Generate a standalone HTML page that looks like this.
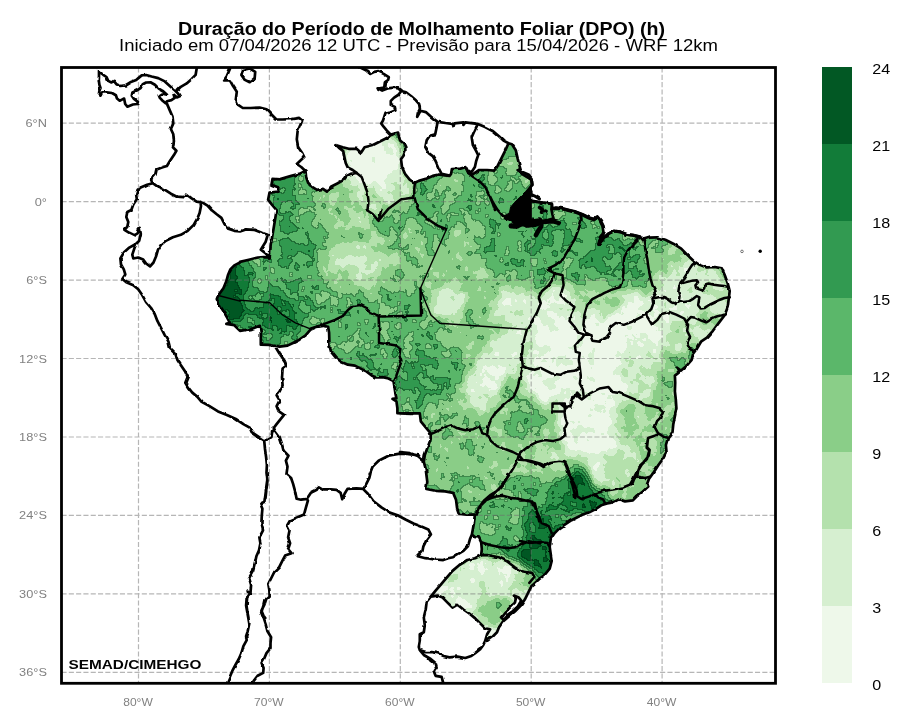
<!DOCTYPE html>
<html lang="pt"><head><meta charset="utf-8"><title>DPO</title>
<style>html,body{margin:0;padding:0;background:#fff}body{width:909px;height:727px;overflow:hidden;font-family:"Liberation Sans",sans-serif}svg{display:block}text{font-family:"Liberation Sans",sans-serif}</style></head><body>
<svg width="909" height="727" viewBox="0 0 909 727">
<rect width="909" height="727" fill="#fff"/>
<defs><clipPath id="fr"><rect x="61.5" y="67.5" width="714.0" height="615.8"/></clipPath>
<clipPath id="brc"><path d="M305.5,171L306.1,176.9 308.1,182.8 312.1,186.8 317,189.8 323,188.8 326.9,191.7 330.9,186.8 336.8,183.8 343.8,179.9 346.7,175.9 350.7,173.9 356.6,172.9 352.7,170 347.7,167.4 345.7,163 344.4,157.1 343.2,151.1 338.8,147.6 336.4,145.2 342.8,147.2 348.7,148.8 356.6,148.8 361,152.7 364.6,147.2 372.5,145.2 380.4,141.2 386.3,138.3 390.8,135.2 395.4,133.3 398.1,132.6 398.7,135.9 400.1,140.5 403.4,143.2 405.3,147.1 405.3,151.1 403.4,156 401,159.1 402,167 405,173.9 409.9,179.9 414.9,182.8 418.8,180.9 425.7,178.9 432.7,175.9 438.6,174.5 444.6,175.3 449.5,175.9 451.1,173.9 451.9,169 459.4,168.6 465.3,167 468.3,172.9 473.3,173.9 479.2,170 487.1,170 494.1,170.6 497,167 501,159.1 505,151.1 508.5,143.2 511.9,144.2 515.8,150.2 517.8,159.1 519.8,167 521.8,173.9 526.7,176.9 531.7,179.9 532.3,184.8 528.7,189.8 531.3,191.5 530.9,200.5 542.8,202.7 551.9,203.8 552.4,208.8 556,208 562.6,208.8 569.2,210.4 575.8,212.1 582.4,214.6 589,217.9 594,219.5 597.3,217 600.6,221.2 603,226.1 603.9,231.9 602.2,236 599.7,241 598.9,244.3 603.9,237.7 608.8,233.5 613.8,231.1 620.4,231.9 627,234.4 633.6,235.2 640,236.8 642.6,239.7 649.5,237.7 657.4,237.3 665.3,239.7 673.3,243.7 681.2,248.6 687.1,254.6 693.1,260.5 699,264.5 706.9,267.4 714.9,267 721.8,268.4 724.8,275.3 727.7,283.3 729.7,291.2 728.7,299.1 727.7,307 724.8,315 718.8,322.9 712.9,330.8 706.9,337.7 701,341.7 697,348.6 693.1,354 691.7,359.8 686.7,365.7 680.8,370.7 676.8,367.7 678.8,372.7 674.9,375.6 675.2,382.6 674.9,391.5 675.8,399.4 676.4,408.3 674.9,416.2 673.3,424.2 672.5,432.1 667.9,438 665.9,445 666.5,451.9 663,458.8 658.6,464.8 654.1,471.7 649.1,478.6 647.1,484 648.3,486.5 642.8,491.5 636.8,496.4 632.9,500.4 625,501.4 619,499.4 613.1,502.4 607.1,503.4 601.2,505.3 595.2,509.3 589.3,512.3 583.4,514.3 577.4,517.2 571.5,520.2 565.5,524.2 559.6,528.1 554.7,533.1 550.7,539 549.7,546.9 550.7,553.9 551.7,560.8 549.7,568.7 544.8,574.7 539.8,578.6 533.9,584 531.7,585.7 528.7,591.7 524.8,599.6 520.8,605.5 514.9,611.5 508.9,616.4 503,621.4 499,627.3 497,632.3 492.1,637.2 487.1,640.8 485.1,641.2 487.1,634.3 490.1,629.3 485.1,628.3 480.2,623.4 475.2,618.4 469.3,613.5 463.4,609.5 457.4,604.6 452.5,607.5 447.5,602.6 442.6,597.6 437.6,595.6 430.7,596.6 435.6,590.7 440.6,584.8 446.5,577.8 452.5,570.9 459.4,565 467.3,560 474.9,558.2 481.2,555.2 481.8,549.2 481.2,542.3 478.8,537.4 474.9,537 471.9,534.4 473.9,523.5 474.9,514.6 466.9,514.6 459,513.6 457,507.7 456,499.7 453.1,492.8 445.1,491.4 435.2,490.8 426.3,488.9 427.3,481.9 426.3,474 425.7,468.9 423.8,461.9 424.8,455 427.7,447.1 430.7,439.1 430.7,434.2 429.7,432.2 425.7,427.3 420.8,421.3 419.8,413.4 400,413.4 412.3,414 404.4,413.6 397.4,413.2 397.4,408.2 396.4,401.3 392.5,398.9 396.4,398.3 395.4,393.4 394.5,387.4 393.5,381.1 388.5,378.5 382.6,377.1 375.6,377.5 371.7,375.5 366.7,371.6 360.8,368.6 354.9,365.6 347.9,364.7 341,361.7 335,356.7 331.1,351.8 329.5,345.8 329.1,332.8 328.1,326.8 323.2,325.8 317.2,326.8 310.3,329.8 305.3,335.7 299.4,339.7 293.5,342.7 287.5,345.6 279.6,346.6 269.7,345 260.8,344.7 260.8,332.8 259.8,325.8 251.9,328.8 240,330.8 234.3,325.2 226.3,323.9 229.9,322.9 227.3,317.9 223.4,311 219.4,305 216.8,299.1 218.4,295.1 223.4,288.2 226.3,281.3 227.9,275.3 230.3,269.4 234.3,265.4 240,262.5 240,261.9 249.9,259.5 257.8,257.5 263.8,257.1 269.7,257.5 270.7,245.6 272.7,233.8 274.7,221.9 276.6,210 276.4,210 271.9,204.6 268.1,199.7 269.5,192.7 278.4,191.7 279.4,187.8 271.5,184.8 272.5,178.9 279.4,179.3 291.3,175.9 299.2,173.9Z"/></clipPath><filter id="dpo" x="195" y="120" width="580" height="540" filterUnits="userSpaceOnUse" color-interpolation-filters="sRGB"><feGaussianBlur in="SourceGraphic" stdDeviation="5" result="b"/><feTurbulence type="fractalNoise" baseFrequency="0.082" numOctaves="3" seed="3" result="t"/><feColorMatrix in="t" type="matrix" values="1 0 0 0 0 1 0 0 0 0 1 0 0 0 0 0 0 0 0 1" result="tg"/><feComposite in="b" in2="tg" operator="arithmetic" k1="0" k2="1" k3="0.4" k4="-0.2" result="v"/><feComponentTransfer in="v" result="q"><feFuncR type="discrete" tableValues="0 .125 .25 .375 .5 .625 .75 .875"/><feFuncG type="discrete" tableValues="0 .125 .25 .375 .5 .625 .75 .875"/><feFuncB type="discrete" tableValues="0 .125 .25 .375 .5 .625 .75 .875"/></feComponentTransfer><feColorMatrix in="q" type="matrix" values="0 0 0 0 0 0 0 0 0 0 0 0 0 0 0 1 0 0 0 0" result="qa"/><feMorphology in="qa" operator="erode" radius="1" result="era"/><feComposite in="qa" in2="era" operator="arithmetic" k1="0" k2="1" k3="-1" k4="0" result="eda"/><feComponentTransfer in="qa" result="ma"><feFuncA type="discrete" tableValues="0 0 0 0.8 1 1 1 1"/></feComponentTransfer><feComposite in="eda" in2="ma" operator="in" result="edm"/><feColorMatrix in="edm" type="matrix" values="0 0 0 0 0  0 0 0 0 0.14  0 0 0 0 0.04  0 0 0 3.0 0" result="edge"/><feComponentTransfer in="v" result="col"><feFuncR type="discrete" tableValues="0.9333 0.8392 0.7059 0.5412 0.3529 0.1922 0.0667 0.0000"/><feFuncG type="discrete" tableValues="0.9725 0.9373 0.8824 0.8078 0.7176 0.6039 0.4824 0.3412"/><feFuncB type="discrete" tableValues="0.9176 0.8157 0.6784 0.5333 0.4118 0.3137 0.2196 0.1373"/></feComponentTransfer><feMerge><feMergeNode in="col"/><feMergeNode in="edge"/></feMerge></filter><filter id="wig" x="55" y="60" width="730" height="630" filterUnits="userSpaceOnUse"><feTurbulence type="fractalNoise" baseFrequency="0.12" numOctaves="2" seed="11" result="n"/><feDisplacementMap in="SourceGraphic" in2="n" scale="2.6" xChannelSelector="R" yChannelSelector="G"/></filter>
</defs>
<g clip-path="url(#fr)">
<g clip-path="url(#brc)"><g filter="url(#dpo)"><rect x="190" y="115" width="590" height="550" fill="#8c8c8c"/><ellipse cx="283" cy="191.5" rx="17" ry="23.5" fill="#acacac"/><ellipse cx="292" cy="256" rx="30" ry="44" fill="#999999"/><ellipse cx="322.5" cy="194" rx="22.5" ry="24" fill="#808080"/><ellipse cx="327" cy="197" rx="13" ry="9" fill="#606060"/><ellipse cx="374" cy="172.5" rx="34" ry="42.5" fill="#4c4c4c"/><ellipse cx="373" cy="162" rx="29" ry="26" fill="#131313"/><ellipse cx="375" cy="160" rx="23" ry="18" fill="#0a0a0a"/><ellipse cx="395" cy="187.5" rx="15" ry="17.5" fill="#333333"/><ellipse cx="360" cy="261" rx="42" ry="35" fill="#6c6c6c"/><ellipse cx="357" cy="261" rx="31" ry="21" fill="#4c4c4c"/><ellipse cx="368" cy="263" rx="16" ry="15" fill="#3d3d3d"/><ellipse cx="332.5" cy="219" rx="17.5" ry="13" fill="#6c6c6c"/><ellipse cx="360" cy="216.5" rx="15" ry="11.5" fill="#565656"/><ellipse cx="289" cy="243" rx="11" ry="19" fill="#a9a9a9"/><ellipse cx="270.5" cy="315" rx="34.5" ry="30" fill="#afafaf"/><ellipse cx="278.5" cy="316" rx="23.5" ry="16" fill="#cccccc"/><ellipse cx="228" cy="294" rx="18" ry="36" fill="#efefef"/><ellipse cx="243" cy="279" rx="7" ry="17" fill="#d2d2d2"/><ellipse cx="317.5" cy="301" rx="17.5" ry="21" fill="#8f8f8f"/><ellipse cx="357.5" cy="345" rx="27.5" ry="40" fill="#8c8c8c"/><ellipse cx="358.5" cy="343.5" rx="13.5" ry="8.5" fill="#808080"/><ellipse cx="367.5" cy="358.5" rx="17.5" ry="13.5" fill="#9c9c9c"/><ellipse cx="412.5" cy="255" rx="12.5" ry="40" fill="#767676"/><ellipse cx="443" cy="199" rx="33" ry="27" fill="#8c8c8c"/><ellipse cx="448" cy="187" rx="12" ry="9" fill="#636363"/><ellipse cx="500" cy="177.5" rx="35" ry="37.5" fill="#8f8f8f"/><ellipse cx="521.5" cy="170" rx="13.5" ry="20" fill="#666666"/><ellipse cx="472.5" cy="275.5" rx="52.5" ry="49.5" fill="#707070"/><ellipse cx="469" cy="246" rx="17" ry="26" fill="#696969"/><ellipse cx="448" cy="302" rx="20" ry="18" fill="#404040"/><ellipse cx="448" cy="303" rx="12" ry="11" fill="#2d2d2d"/><ellipse cx="530" cy="247.5" rx="55" ry="32.5" fill="#939393"/><ellipse cx="549" cy="236" rx="29" ry="14" fill="#a9a9a9"/><ellipse cx="516" cy="307" rx="26" ry="21" fill="#404040"/><ellipse cx="515" cy="308" rx="15" ry="10" fill="#1d1d1d"/><ellipse cx="481.5" cy="341" rx="43.5" ry="15" fill="#737373"/><ellipse cx="580" cy="247.5" rx="25" ry="42.5" fill="#969696"/><ellipse cx="612.5" cy="262" rx="27.5" ry="30" fill="#a9a9a9"/><ellipse cx="580" cy="298.5" rx="20" ry="13.5" fill="#606060"/><ellipse cx="617.5" cy="303.5" rx="32.5" ry="18.5" fill="#565656"/><ellipse cx="556.5" cy="347" rx="28.5" ry="63" fill="#202020"/><ellipse cx="557.5" cy="365" rx="22.5" ry="35" fill="#0d0d0d"/><ellipse cx="620" cy="365" rx="45" ry="75" fill="#0d0d0d"/><ellipse cx="611" cy="299" rx="13" ry="15" fill="#666666"/><ellipse cx="653" cy="254" rx="15" ry="16" fill="#808080"/><ellipse cx="676" cy="260" rx="16" ry="18" fill="#606060"/><ellipse cx="675" cy="284" rx="25" ry="16" fill="#464646"/><ellipse cx="692.5" cy="306" rx="42.5" ry="44" fill="#292929"/><ellipse cx="711" cy="291.5" rx="11" ry="8.5" fill="#666666"/><ellipse cx="709" cy="319" rx="13" ry="11" fill="#666666"/><ellipse cx="680" cy="338" rx="16" ry="18" fill="#494949"/><ellipse cx="692" cy="350" rx="8" ry="10" fill="#797979"/><ellipse cx="668" cy="396" rx="16" ry="36" fill="#767676"/><ellipse cx="640" cy="370" rx="20" ry="30" fill="#3d3d3d"/><ellipse cx="660" cy="418" rx="20" ry="22" fill="#666666"/><ellipse cx="634" cy="420" rx="30" ry="22" fill="#666666"/><ellipse cx="592.5" cy="432.5" rx="32.5" ry="37.5" fill="#101010"/><ellipse cx="600" cy="460" rx="15" ry="22" fill="#101010"/><ellipse cx="638" cy="463" rx="32" ry="25" fill="#434343"/><ellipse cx="635" cy="481" rx="20" ry="11" fill="#606060"/><ellipse cx="620" cy="470" rx="20" ry="12" fill="#4c4c4c"/><ellipse cx="654" cy="457.5" rx="14" ry="17.5" fill="#606060"/><ellipse cx="430" cy="376" rx="50" ry="36" fill="#8f8f8f"/><ellipse cx="424" cy="380" rx="28" ry="28" fill="#a3a3a3"/><ellipse cx="481" cy="338" rx="43" ry="18" fill="#707070"/><ellipse cx="492" cy="372" rx="20" ry="60" fill="#3d3d3d" transform="rotate(34 492 372)"/><ellipse cx="493" cy="372" rx="11" ry="40" fill="#1d1d1d" transform="rotate(34 493 372)"/><ellipse cx="445" cy="417" rx="35" ry="19" fill="#767676"/><ellipse cx="528" cy="424" rx="42" ry="32" fill="#606060"/><ellipse cx="524" cy="421" rx="21" ry="23" fill="#898989"/><ellipse cx="571.5" cy="422.5" rx="13.5" ry="27.5" fill="#1a1a1a"/><ellipse cx="552" cy="378" rx="32" ry="26" fill="#1a1a1a"/><ellipse cx="473" cy="465" rx="49" ry="35" fill="#6c6c6c"/><ellipse cx="470" cy="463" rx="18" ry="17" fill="#797979"/><ellipse cx="442" cy="459" rx="18" ry="11" fill="#6c6c6c"/><ellipse cx="454" cy="494" rx="30" ry="24" fill="#808080"/><ellipse cx="550.5" cy="467" rx="34.5" ry="15" fill="#535353"/><ellipse cx="536" cy="490" rx="36" ry="16" fill="#939393"/><ellipse cx="570" cy="500.5" rx="30" ry="14.5" fill="#acacac"/><ellipse cx="578" cy="484" rx="14" ry="18" fill="#d9d9d9"/><ellipse cx="592" cy="503" rx="20" ry="11" fill="#dfdfdf"/><ellipse cx="575" cy="463" rx="15" ry="7" fill="#707070"/><ellipse cx="509.5" cy="520" rx="35.5" ry="26" fill="#898989"/><ellipse cx="502" cy="523" rx="18" ry="11" fill="#868686"/><ellipse cx="542" cy="526.5" rx="24" ry="21.5" fill="#bfbfbf"/><ellipse cx="546" cy="533" rx="14" ry="13" fill="#dfdfdf"/><ellipse cx="504" cy="560" rx="26" ry="20" fill="#b2b2b2"/><ellipse cx="534" cy="563" rx="22" ry="21" fill="#e6e6e6"/><ellipse cx="485" cy="600.5" rx="60" ry="44.5" fill="#1d1d1d"/><ellipse cx="470" cy="585" rx="30" ry="15" fill="#333333"/><ellipse cx="495" cy="611" rx="19" ry="15" fill="#767676"/><ellipse cx="522.5" cy="587.5" rx="17.5" ry="12.5" fill="#464646"/><ellipse cx="534" cy="581" rx="14" ry="9" fill="#808080"/><ellipse cx="623" cy="490" rx="27" ry="12" fill="#606060"/><ellipse cx="658.5" cy="465" rx="13.5" ry="25" fill="#696969"/><ellipse cx="599" cy="297" rx="27" ry="19" fill="#606060"/><ellipse cx="665.5" cy="379" rx="10.5" ry="13" fill="#737373"/><ellipse cx="634" cy="422" rx="22" ry="24" fill="#606060"/><ellipse cx="565" cy="506" rx="17" ry="12" fill="#bcbcbc"/><ellipse cx="592" cy="503" rx="18" ry="9" fill="#dfdfdf"/></g></g>
<path d="M138.5,67.5V683.3M269.4,67.5V683.3M400.3,67.5V683.3M531.2,67.5V683.3M662.1,67.5V683.3M61.5,672.3H775.5M61.5,593.9H775.5M61.5,515.4H775.5M61.5,437H775.5M61.5,358.5H775.5M61.5,280.1H775.5M61.5,201.6H775.5M61.5,123.1H775.5" fill="none" stroke="#6e6e6e" stroke-opacity="0.5" stroke-width="1.2" stroke-dasharray="5.1 2.2"/>
<path d="M218.4,295.5L240,301.1M240,300.1L269.7,302.7 282.6,315 295.4,322.9 310.3,328.8M446.7,228.8L420,289.2 422,293.2 425.9,303.1 430.9,315 439.8,323.3 526.9,329.4" fill="none" stroke="#000" stroke-width="1.4" stroke-linejoin="round" stroke-linecap="round"/>
<g filter="url(#wig)">
<path d="M356.6,172.9L361.6,176.9 364.6,184.8 367.5,192.7 368.5,200.7 367.5,210M366.7,210L372.7,214 378.6,220.9 379.6,215.9 381.6,210M379.9,219L388.1,209.1 401.3,199.2 414.5,197.6 417.8,209.1 427.7,219 437.6,225.6 445.9,228.9M379.9,316.4L421.1,315.4 420.5,288.3M414.9,182.8L414.3,188.8 414.3,194.7 414.5,197.7M468.3,172.9L473.3,176.9 479.2,180.9 485.1,186.8 489.1,194.7 493.1,204.6 495,210M490,196.4L493.3,203 497.4,209.6 502.4,215.4 505.7,217.9M526.9,329.4L530.9,322.9 536.8,313 540.8,303.1 538.8,297.1 541.8,291.2 548.7,285.2 552.7,279.3 554.7,273.4 546.7,269.4 554.7,265.4 562.6,259.5 568.5,249.6 574.5,239.7 578.4,229.8 581.4,219.9 580.4,214M526.9,329.4L525,336.7 523,344.7 522,354M554.7,273.4L562.6,275.3 563.6,285.2 560.6,295.1 566.5,301.1 574.5,307 570.5,315 569.5,320.9 574.5,326.8 578.4,332.8 584.4,334.8 590.3,334.8M600,295.1L592.3,299.1 587.3,305 584.4,315 583.4,324.9 586.3,332.8 590.3,334.8 592.3,340.7 600,341.7M584.4,334.8L580.8,339.7M310.3,328.8L319.2,325.8 327.1,322.9 335,319.9 343,315.9 347.9,310 352.9,306 360.8,305 366.7,308 370.7,312 376.6,315 378.6,315.9 379,328.8 379,343.1 390.5,344.5 397.4,345.8M396.4,345.4L400.4,348.8 399.4,355.7 401.4,361.7 398.4,369.6 396.4,375.5 393.5,381.1M638.6,238.7L632.7,244.7 627.7,250.6 624.2,257.5 623.4,265.4 623.4,273.4 622.2,281.3 619.8,287.2 611.9,289.6 604,293.2 600,295.5M645.9,314.6L648.5,318.9 651.9,324.5 657.4,319.9 661.4,314 669.3,312 676.2,314.6 684.2,318.5 688.1,324.9 687.1,330.8 690.1,336.7 687.1,343.1 689.1,348.6 694.1,351M643.3,239.2L644.6,245.8 645.9,252.4 647.3,259 648.2,265.6 649.2,272.2 650.6,278.8 652.5,285.4 655.2,290.1 655.8,293.4 653.9,296.7 652.5,298.6 653.2,303.9 651.2,309.2 647.9,312.5 645.9,314.5M645.9,314.6L639.6,317.9 631.7,321.9 623.8,324.9 615.8,322.9 610.9,326.8 609.9,332.8 605.9,337.7 600,340.7M652.5,298.6L658.5,297.3 663.8,297.1 668.4,299.3 672.3,302.3 675,303.3 678.3,301.3 678.9,300.6 679.6,296 678.3,292 678.9,288.1 680.3,282.8 683.6,278.8 686.9,273.6 689.5,268.9 692.1,265 694.8,262.7M680.9,283.5L686.2,282.1 691.5,280.8 696.8,280.2 698.1,282.1 695.4,285.4 696.1,288.1 699.4,289.4 703.4,290.7 705.3,288.1 706,284.1 708.6,283.5 713.9,284.8 719.2,285.4 724.5,286.1 727.4,286.8M678.9,300.6L683.6,301.9 688.8,301.3 693.5,298.6 696.8,296 699.4,297.3 698.7,301.3 698.1,305.2 700.7,308.5 704.7,307.9 708.6,305.2 713.9,302.6 719.2,300 724.5,298 729.8,297.3M686.2,322.4L688.2,319.8 690.8,317.1 695.4,317.8 700.7,320.4 706,322.4 708.6,321.1 711.9,318.4 716.6,316.5 721.8,315.1 725.8,314.5M430.7,434.2L437.6,431.2 445.5,427.3 451.5,425.3 457.4,428.3 465.3,430.2 473.3,429.2 479.2,426.3 481.2,430.2 482.2,433.2 487.1,435.2M487.1,435.2L488.1,427.3 491.1,419.3 495,413.4 501,407.5 507.9,401.5 513.9,396.6 516.8,389.6 518.8,381.7 520.8,373.8 522.8,365.9 521.8,358 521.2,354M487.1,435.2L491.1,441.1 497,446.1 505,449 512.9,452 518.8,455M518.8,455L522.8,451 528.7,446.1 536.6,442.1 544.6,440.1 552.5,441.1 560.4,439.1 565.3,435.2 564.4,429.2 567.3,423.3 565.3,417.4 564.4,411.4 566.3,406.5 570.3,407.5 571.3,399.5 575.2,396.6 577.2,392.6 580,395.6M552.5,403.5L564.8,403.5 564.8,411.4 552.5,411.4ZM522.8,365.9L526.7,367.9 534.7,369.8 540.6,367.9 546.5,370.8 552.5,373.8 560.4,374.8 566.3,371.8 574.3,370.8 578.2,368.9M518.8,455L516.8,461.9 512.9,468.9 507.9,476.8 503,484.7 497,490.6 492.1,495.6 490.1,498M518.8,455L522.8,459.9 530.7,461.9 538.6,463.9 543.6,466.9 550.5,462.9 558.4,461.9 564.4,461.9 567.3,468.9 569.3,476.8 572.3,484.7 574.3,492.6 575.2,498M581.8,399.4L589.7,393.5 599.6,388.5 608.5,387.1 612.5,391.9 619.4,393.1 625.3,395.4 632.3,398.4 639.2,401.4 645.1,405.3 653.1,406.3 660,408.3 663,411.3 660,418.2 657,421.2 654.7,427.1 658,433.1 664,437 667.9,438M657,435L648.1,438 647.1,446.9 649.1,450.9 647.1,458.8 641.6,464.8 638.2,470.7 637.2,476.6 645.1,478 650.1,476.6M637.2,476.6L634.3,478.6 632.3,484M579.8,340L574.9,345.9 575.8,351.9 579.8,352.9 578.8,359.8 579.8,367.7 580.8,375.6 579.8,383.6 582.8,389.5 583.8,397.4 581.8,399.4 576.8,395.4 571.9,397.4 570.9,405.3 565.9,408.3 560,403.4M507.5,474L504.6,481.9 498.6,489.8 490.7,494.8 483.8,500.7 478.8,507.7 476.8,514.6M477.8,512.6L480.8,505.7 486.7,499.7 494.7,496.8 502.6,495.8 510.5,497.8 518.4,498.8 526.3,500.7 532.3,501.7 535.2,507.7 537.2,513.6 539.2,521.5M481.2,542.3L490.7,545.3 500.6,547.3 508.5,548.3 514.5,547.3 520.4,544.3 528.3,541.3 540,543.3M481.2,555.2L488.7,555.2 498.6,557.2 506.5,561.1 514.5,567.1 520.4,571 526.3,572 532.3,573 534.3,577 529.3,582.9M520,459.8L529.9,460.8 539.8,463.4 544.8,465.7 551.7,462.8 559.6,461.8 565.5,462.8 568.5,469.7 570.5,477.6 573.5,482.6 576.4,489.5 577.4,496.4 581.4,499 589.3,496.4 595.2,493.5 603.2,491.1 613.1,489.5 623,487.5 629.9,484.6 633.9,477.6 636.8,471.7 638.8,466.7 643.8,461.8 648.7,455.8 649.7,449.9 646.7,446.9 647.7,440M595.2,493.5L598.2,497.4 603.2,499.4 605.1,503.4M520,500.4L527.9,500.4 534.9,503.4 536.8,511.3 539.8,518.2 541.8,523.2 548.7,526.1 551.7,533.1M520,541L529.9,543 539.8,542 547.7,543 549.7,545.9" fill="none" stroke="#000" stroke-width="2.5" stroke-linejoin="round" stroke-linecap="round"/>
<path d="M513.9,595.6L518.8,597.6 521.2,600.6 517.8,606.5 512.9,611.1 506.9,615.4 503,619.4 501,617.4 505,612.5 509.9,607.5 514.9,602.6 515.8,598.6Z" fill="#fff" stroke="none"/>
<path d="M505.7,217L511.5,218.7 517.2,217 523,219.5 528.8,219.5" fill="none" stroke="#000" stroke-width="5" stroke-linejoin="round" stroke-linecap="round"/>
<path d="M511.1,225.8L516.4,226.1 522.2,223.6 528,225.3 533.7,224.5 539.5,222.5 546.1,221.5 552.7,220.8 558.5,222.5" fill="none" stroke="#000" stroke-width="5.2" stroke-linejoin="round" stroke-linecap="round"/>
<path d="M514.8,221.2L523,222.5 531.3,221.5 539.5,220.3" fill="none" stroke="#000" stroke-width="6" stroke-linejoin="round" stroke-linecap="round"/>
<path d="M535.9,235.2L538.7,230.2 542,225.3" fill="none" stroke="#000" stroke-width="4.6" stroke-linejoin="round" stroke-linecap="round"/>
<path d="M531.3,201.4L542.8,202.7 551.9,203.8 551.4,209.6 552.4,214.6 553.5,218.2 547.8,220.3 541.2,221.5" fill="none" stroke="#000" stroke-width="2.6" stroke-linejoin="round" stroke-linecap="round"/>
<path d="M539.5,207.6L542.5,209.6 541.5,212.2 545.8,211.3" fill="none" stroke="#000" stroke-width="3.6" stroke-linejoin="round" stroke-linecap="round"/>
<path d="M532.1,194.8L535.4,196.4 539.5,198.9" fill="none" stroke="#000" stroke-width="3" stroke-linejoin="round" stroke-linecap="round"/>
<path d="M552.4,208.8L556,208 562.6,208.8 569.2,210.4 575.8,212.1 582.4,214.6 589,217.9 594,219.5 597.3,217 600.6,221.2 603,226.1 603.9,231.9 602.2,236 599.7,241 598.9,244.3" fill="none" stroke="#000" stroke-width="3.6" stroke-linejoin="round" stroke-linecap="round"/>
<path d="M598.9,244.3L603.9,237.7 608.8,233.5 613.8,231.1 620.4,231.9 627,234.4 633.6,235.2 640,236.8" fill="none" stroke="#000" stroke-width="3" stroke-linejoin="round" stroke-linecap="round"/>
<path d="M518.9,170L523,172.5 528.8,175 531.3,178.3 532.1,184.9" fill="none" stroke="#000" stroke-width="3.2" stroke-linejoin="round" stroke-linecap="round"/>
<path d="M531.3,184.9L525.5,191.5 519.7,197.2 514.8,202.2 510.6,207.1 509.5,212.6 505.7,215.4 505.2,219.5 511.5,220.2 517.2,218.2 523,220.5 531.3,219.5 531.3,200.5 531.6,191.5Z" fill="#000" stroke="#000" stroke-width="1"/>
<circle cx="760.2" cy="251.2" r="1.7" fill="#000"/><circle cx="742" cy="251.4" r="1.3" fill="#fff" stroke="#555" stroke-width="0.8"/>
<path d="M305.5,171L306.1,176.9 308.1,182.8 312.1,186.8 317,189.8 323,188.8 326.9,191.7 330.9,186.8 336.8,183.8 343.8,179.9 346.7,175.9 350.7,173.9 356.6,172.9 352.7,170 347.7,167.4 345.7,163 344.4,157.1 343.2,151.1 338.8,147.6 336.4,145.2 342.8,147.2 348.7,148.8 356.6,148.8 361,152.7 364.6,147.2 372.5,145.2 380.4,141.2 386.3,138.3 390.8,135.2 395.4,133.3 398.1,132.6 398.7,135.9 400.1,140.5 403.4,143.2 405.3,147.1 405.3,151.1 403.4,156 401,159.1 402,167 405,173.9 409.9,179.9 414.9,182.8 418.8,180.9 425.7,178.9 432.7,175.9 438.6,174.5 444.6,175.3 449.5,175.9 451.1,173.9 451.9,169 459.4,168.6 465.3,167 468.3,172.9 473.3,173.9 479.2,170 487.1,170 494.1,170.6 497,167 501,159.1 505,151.1 508.5,143.2 511.9,144.2 515.8,150.2 517.8,159.1 519.8,167 521.8,173.9 526.7,176.9 531.7,179.9 532.3,184.8 528.7,189.8 531.3,191.5 530.9,200.5 542.8,202.7 551.9,203.8 552.4,208.8 556,208 562.6,208.8 569.2,210.4 575.8,212.1 582.4,214.6 589,217.9 594,219.5 597.3,217 600.6,221.2 603,226.1 603.9,231.9 602.2,236 599.7,241 598.9,244.3 603.9,237.7 608.8,233.5 613.8,231.1 620.4,231.9 627,234.4 633.6,235.2 640,236.8 642.6,239.7 649.5,237.7 657.4,237.3 665.3,239.7 673.3,243.7 681.2,248.6 687.1,254.6 693.1,260.5 699,264.5 706.9,267.4 714.9,267 721.8,268.4 724.8,275.3 727.7,283.3 729.7,291.2 728.7,299.1 727.7,307 724.8,315 718.8,322.9 712.9,330.8 706.9,337.7 701,341.7 697,348.6 693.1,354 691.7,359.8 686.7,365.7 680.8,370.7 676.8,367.7 678.8,372.7 674.9,375.6 675.2,382.6 674.9,391.5 675.8,399.4 676.4,408.3 674.9,416.2 673.3,424.2 672.5,432.1 667.9,438 665.9,445 666.5,451.9 663,458.8 658.6,464.8 654.1,471.7 649.1,478.6 647.1,484 648.3,486.5 642.8,491.5 636.8,496.4 632.9,500.4 625,501.4 619,499.4 613.1,502.4 607.1,503.4 601.2,505.3 595.2,509.3 589.3,512.3 583.4,514.3 577.4,517.2 571.5,520.2 565.5,524.2 559.6,528.1 554.7,533.1 550.7,539 549.7,546.9 550.7,553.9 551.7,560.8 549.7,568.7 544.8,574.7 539.8,578.6 533.9,584 531.7,585.7 528.7,591.7 524.8,599.6 520.8,605.5 514.9,611.5 508.9,616.4 503,621.4 499,627.3 497,632.3 492.1,637.2 487.1,640.8 485.1,641.2 487.1,634.3 490.1,629.3 485.1,628.3 480.2,623.4 475.2,618.4 469.3,613.5 463.4,609.5 457.4,604.6 452.5,607.5 447.5,602.6 442.6,597.6 437.6,595.6 430.7,596.6 435.6,590.7 440.6,584.8 446.5,577.8 452.5,570.9 459.4,565 467.3,560 474.9,558.2 481.2,555.2 481.8,549.2 481.2,542.3 478.8,537.4 474.9,537 471.9,534.4 473.9,523.5 474.9,514.6 466.9,514.6 459,513.6 457,507.7 456,499.7 453.1,492.8 445.1,491.4 435.2,490.8 426.3,488.9 427.3,481.9 426.3,474 425.7,468.9 423.8,461.9 424.8,455 427.7,447.1 430.7,439.1 430.7,434.2 429.7,432.2 425.7,427.3 420.8,421.3 419.8,413.4 400,413.4 412.3,414 404.4,413.6 397.4,413.2 397.4,408.2 396.4,401.3 392.5,398.9 396.4,398.3 395.4,393.4 394.5,387.4 393.5,381.1 388.5,378.5 382.6,377.1 375.6,377.5 371.7,375.5 366.7,371.6 360.8,368.6 354.9,365.6 347.9,364.7 341,361.7 335,356.7 331.1,351.8 329.5,345.8 329.1,332.8 328.1,326.8 323.2,325.8 317.2,326.8 310.3,329.8 305.3,335.7 299.4,339.7 293.5,342.7 287.5,345.6 279.6,346.6 269.7,345 260.8,344.7 260.8,332.8 259.8,325.8 251.9,328.8 240,330.8 234.3,325.2 226.3,323.9 229.9,322.9 227.3,317.9 223.4,311 219.4,305 216.8,299.1 218.4,295.1 223.4,288.2 226.3,281.3 227.9,275.3 230.3,269.4 234.3,265.4 240,262.5 240,261.9 249.9,259.5 257.8,257.5 263.8,257.1 269.7,257.5 270.7,245.6 272.7,233.8 274.7,221.9 276.6,210 276.4,210 271.9,204.6 268.1,199.7 269.5,192.7 278.4,191.7 279.4,187.8 271.5,184.8 272.5,178.9 279.4,179.3 291.3,175.9 299.2,173.9ZM99,71.5L103.2,74.8 106.5,77 108.2,80.9 111.5,82.5 113.7,80.9 116.4,84.2 120.3,86 125.2,85.3 130.2,82.3 136.2,80.1 138.4,78.1 141.7,75.4 146.1,75 151.6,76.5 158.2,78.1 164.8,81.4 170.3,86.4 175.3,90.8 178,93.5 179.7,96.3 176.9,97.4 173.6,94.6 174.7,97.9 171.4,100.1 167,101.2 165.9,103.4 162.6,100.7 159.9,97.9 158.8,95.2 161.5,93.5 167,94.8 162.6,90.8 158.8,88.6 154.9,84.7 150.5,82.3 146.1,82.5 142.8,84.2 140.6,88 136.2,90.8 132.4,92.4 131.8,95.7 134,99 137.9,101.8 137.3,104 132.9,104.5 127.4,106.7 125.2,104 124.1,98.5 121.9,99.6 119.7,100.7 117,98.5 115.9,95.2 112,93 106.5,92.4 102.1,92.4 100.5,95.7 98.8,94.6 99.4,90.8 100.5,88 99.4,84.7 98.8,80.3 99,75.9ZM177.8,89.8L180.8,86.8 186.7,83.4 191.7,78.9 195.6,74.9 196.6,69 197,66M166.9,103.6L169.9,110.6 172.5,116.5 173.3,123.4 170.9,129 173.3,134.3 173.9,141.2 172.9,147.2 176.4,150.8 173.9,155.1 169.9,161 166.9,166 162,167.4 156.6,169.4 155.4,174.9 151.1,179.9 152.7,183.2M152.7,183.2L158,186.8 165,189.8 170.9,193.7 176.8,196.7 183.8,197.1 186.7,194.7 191.7,198.3 196.6,201.6 202.6,202.6 207.5,205.6 211.5,210M152.7,183.2L147.1,184.8 141.2,187.2 137.6,189.8 136.2,194.7 136.8,199.1 133.3,204.6 131.3,210M230.3,66L229.9,69 226.9,75.9 224,80.3 229.9,80.3 232.9,85.8 236.8,91.7 235.8,99.7 237.8,104.6 242.8,108 250.7,108 259.6,107.6 266.5,109.2 271.5,114.5 276.4,119.5 282.4,119.5 291.3,119.1 299.2,117.9 302.2,120.5 300.2,125.4 297.6,131.3 296.8,139.3 298.2,147.2 302.2,153.1 304.2,157.1 300.2,160.7 296.8,164 301.2,167 305.5,171M242.8,70L249.7,68.4 255.2,71.9 254.7,77.9 249.7,82.2 244.8,79.9 241.4,74.9ZM359.8,67.3L366.4,70.6 370.4,73.9 374.3,71.9 378.3,71.2 383.6,73.9 388.8,77.2 388.2,79.8 384.9,82.4 384.2,87.7 379.6,88.4 377.6,88.4 382.2,90.6 387.5,88.4 394.1,87.7 398.1,88.4 401.4,91M401.4,91L398.1,95 394.1,97.6 390.8,100.9 390.8,104.9 394.8,106.9 395.4,109.5 390.2,111.5 385.5,112.8 384.2,116.8 382.9,120.7 381.2,123.4 383.6,126.7 386.9,130.6 390.8,134.6 395.4,133.3 398.1,132.6M401.4,91L406,92.3 411.3,96.3 415.9,100.3 419.2,104.2 419.9,108.8 417.9,112.8 417.2,116.8 420.5,110.8 425.8,112.1 431.1,116.8 437,121.4M437.6,121.8L445.5,123 452.5,123.8 453.5,126.4 454.5,123.4 463.4,122.4 463.4,125 465.3,122.4 477.2,123.8 485.1,127 493.1,131.3 499,136.3 504,140.9 508.5,143.2M437.6,121.8L436.6,127.4 435.2,134.3 429.7,135.7 426.7,140.3 425.3,147.2 428.7,153.1 432.7,156.1 435.6,161 438.6,168 441.6,173.9 448.5,175.3M477.6,124.4L474.3,131.3 471.7,137.3 472.9,145.2 476.2,151.1 478.2,155.1 476.2,161 474.9,167 472.3,171 468.9,172.5M131.3,210L127.3,212 126.3,216.9 128.3,221.9 127.3,226.8 124.4,229.8 129.3,232.8 134.3,235.3 137.6,233.4 139.6,227.8 140.8,233.8 139.2,240.7 136.2,243.7M136.2,243.7L134.3,248.6 132.3,254.6 133.3,258.5 138.2,257.5 143.2,259.5 146.1,263.5 150.1,266.4 153.5,262.5 156,256.5 158,249.6 161,244.7 165.9,240.7 172.9,237.3 180.8,234.8 187.7,230.8 193.7,224.9 197.6,217.9 199.6,213 201,206 200.4,201.9M136.2,243.7L129.3,247.6 123.8,252.6 120.4,258.5 121,264.5 123.8,269.4 125.3,274.4 122.4,278.9 126.3,282.3 133.3,285.2 138.2,289.2 142.2,295.1 146.1,302.1 151.1,308 154.7,314 157.4,320.9 161,327.8 164.6,334.8 168.5,341.7 169.9,347.6 174.9,352.6 175.8,354M211.5,210L216.4,214 221.4,217.9 224.4,223.9 228.3,228.8 234.3,230.8 240,231.4M240,231.4L245.9,229.4 253.9,229.8 261.8,232.8 267.7,234.8 265.7,241.7 260.8,249.6 264.8,252.6 269.7,257.5M175.4,354L177.4,359.9 181.4,365.9 185.3,371.8 187.7,376.8 185.3,382.7 188.3,387.7 192.3,392.6 197.2,396.6 201.2,401.5 209.1,405.9 218,411.4 226.9,415 235.8,419 243.8,424.3 249.7,427.7 251.7,432.2 257.6,436.2 263.6,440.1 267.5,439.5 271.5,437.2 272.1,432.2 274.5,429.2M264.2,440.7L265,449 266.1,457 266.9,464.9 266.5,472.8 267.5,480.7 266.5,488.7 265.5,498M274.7,345.8L279.6,353.8 284.6,360.7 286.5,365.6 282.6,368.6 282,377.5 282.6,385.4 279.6,391.4 276.6,395.3 279.6,400.3 276.6,406.2 278.6,411.2 284,414.8 280.6,419.1 276.6,424.1 273.7,428 275.2,431M275.2,431L279.6,436.9 281.6,442.9 283.6,450.8 288.5,455.7 285.9,460.7 287.5,466.6 286.5,474M286.5,474L291.1,478 293.1,483.9 295,490.8 296.6,498.8 301,499.7 306.9,498.8M266.7,474L267.3,479.9 266.3,486.9 265.3,494.8 264.4,501.7 260.4,503.7 262.4,508.7 261.8,515.6 261.4,523.5 263,530.4 259.4,537.4 260.4,543.3 259,550.2 256.4,556.2 255,563.1 253.1,571 249.1,578 251.1,584.9 250.5,592.8 247.1,597.8 246.5,605.7 247.5,612.6 248.5,618M247.7,591.7L250.7,593.7 246.7,597.6 246.1,605.5 247.7,614.5 249.3,623.4 247.7,631.3 246.1,636.2 246.7,640.2 243.4,646.1 241.4,653.1 238.8,659 235.4,665 232.3,670.9 229.9,676.8 227.5,682.4M306.9,498.8L307.9,500.7 305.9,507.7 304,514.6 297,517.6 290.1,520.5 287.1,525.5 289.5,530.4 288.1,537.4 290.1,543.3 288.1,549.2 291.5,553.2 285.1,555.6 282.2,561.1 279.2,567.1 274.3,572 271.3,578 268.3,583.9 269.3,589.8 269.7,595.8 266.3,598.8 264.4,604.7 261.4,610.6 263.4,615.6 265.3,618M264.6,600.6L263.2,606.5 261.2,612.5 263.6,618.4 265.9,625.3 267.5,631.3 271.1,637.2 270.5,643.2 270.5,648.1 266.5,653.1 264,659 261.6,663 263.6,667.9 263.2,672.9 257.6,675.8 253.7,680.8 252.7,683.2M306.9,498.8L310.9,492.8 316.8,489.8 318.8,486.3 323.8,489.4 330.7,489.4 336.6,489.8 340.6,492.8 342.2,499.3 344.6,493.8 347.5,488.9 356.4,488.3 363.4,488.9M363.4,488.9L366.3,483.9 369.3,478 370.3,474M369.7,474L372.7,466.6 378.6,460.7 388.5,455.7 398.4,453.8 408.3,453.8 420,455.7M400,452L409.9,453 417.8,456 423.8,460.9M363,488.9L367.9,493.8 373.9,501.7 381.8,507.7 389.7,512.6 397.6,515.2 405.5,519.5 413.5,523.5 421.4,526.5 428.3,529.4 430.9,534.4 426.3,540.3 423.4,546.3 422.4,551.2 417.8,556.2 425.3,558.2 435.2,559.5 443.2,560.1 448.1,558.2 453.1,557.2 458,554.2 463,551.2 467.9,546.3 469.9,539.3 471.9,534.4M430.7,596.6L426.7,601.6 425.7,609.5 423.8,617.4 424.8,625.3 423.8,632.3 419.8,634.3 419.8,641.2 418.8,647.1 419.8,650.1 425.7,652.1 431.7,652.1 437.6,653.1 443.6,656 449.5,657.4 457.4,656.6 465.3,658 471.3,656 475.2,653.1 480.2,649.1 483.2,645.1 485.1,641.2M419.8,650.1L423.8,655 430.7,659 435.6,663 436.6,666.9 433.7,670.9 435.6,675.8 441.6,676.8 443.2,682.8M513.9,595.6L518.8,597.6 521.2,600.6 517.8,606.5 512.9,611.1 506.9,615.4 503,619.4 501,617.4 505,612.5 509.9,607.5 514.9,602.6 515.8,598.6Z" fill="none" stroke="#000" stroke-width="2.7" stroke-linejoin="round" stroke-linecap="round"/>
</g>
</g>
<rect x="61.5" y="67.5" width="714.0" height="615.8" fill="none" stroke="#000" stroke-width="2.8"/>
<g opacity="0.996">
<text x="178" y="35.3" font-size="17.6" font-weight="700" textLength="487" lengthAdjust="spacingAndGlyphs" fill="#000">Duração do Período de Molhamento Foliar (DPO) (h)</text>
<text x="119" y="50.6" font-size="17.2" textLength="599" lengthAdjust="spacingAndGlyphs" fill="#000">Iniciado em 07/04/2026 12 UTC - Previsão para 15/04/2026 - WRF 12km</text>
<text x="68.5" y="668.8" font-size="13.6" font-weight="700" textLength="133" lengthAdjust="spacingAndGlyphs" fill="#000">SEMAD/CIMEHGO</text>
<text transform="translate(46.9 676.3) scale(1.16 1)" font-size="11" text-anchor="end" fill="#808080">36°S</text>
<text transform="translate(46.9 597.9) scale(1.16 1)" font-size="11" text-anchor="end" fill="#808080">30°S</text>
<text transform="translate(46.9 519.4) scale(1.16 1)" font-size="11" text-anchor="end" fill="#808080">24°S</text>
<text transform="translate(46.9 441) scale(1.16 1)" font-size="11" text-anchor="end" fill="#808080">18°S</text>
<text transform="translate(46.9 362.5) scale(1.16 1)" font-size="11" text-anchor="end" fill="#808080">12°S</text>
<text transform="translate(46.9 284.1) scale(1.16 1)" font-size="11" text-anchor="end" fill="#808080">6°S</text>
<text transform="translate(46.9 205.6) scale(1.16 1)" font-size="11" text-anchor="end" fill="#808080">0°</text>
<text transform="translate(46.9 127.1) scale(1.16 1)" font-size="11" text-anchor="end" fill="#808080">6°N</text>
<text x="138" y="706.4" font-size="11" text-anchor="middle" textLength="29.6" lengthAdjust="spacingAndGlyphs" fill="#808080">80°W</text>
<text x="268.9" y="706.4" font-size="11" text-anchor="middle" textLength="29.6" lengthAdjust="spacingAndGlyphs" fill="#808080">70°W</text>
<text x="399.8" y="706.4" font-size="11" text-anchor="middle" textLength="29.6" lengthAdjust="spacingAndGlyphs" fill="#808080">60°W</text>
<text x="530.7" y="706.4" font-size="11" text-anchor="middle" textLength="29.6" lengthAdjust="spacingAndGlyphs" fill="#808080">50°W</text>
<text x="661.6" y="706.4" font-size="11" text-anchor="middle" textLength="29.6" lengthAdjust="spacingAndGlyphs" fill="#808080">40°W</text>
<rect x="822" y="606" width="30" height="77" fill="#eef8ea"/>
<rect x="822" y="529" width="30" height="77" fill="#d6efd0"/>
<rect x="822" y="452" width="30" height="77" fill="#b4e1ad"/>
<rect x="822" y="375" width="30" height="77" fill="#8ace88"/>
<rect x="822" y="298" width="30" height="77" fill="#5ab769"/>
<rect x="822" y="221" width="30" height="77" fill="#319a50"/>
<rect x="822" y="144" width="30" height="77" fill="#117b38"/>
<rect x="822" y="67" width="30" height="77" fill="#005723"/>
<text transform="translate(872.2 690.2) scale(1.12 1)" font-size="14.4" fill="#000">0</text>
<text transform="translate(872.2 613.2) scale(1.12 1)" font-size="14.4" fill="#000">3</text>
<text transform="translate(872.2 536.2) scale(1.12 1)" font-size="14.4" fill="#000">6</text>
<text transform="translate(872.2 459.2) scale(1.12 1)" font-size="14.4" fill="#000">9</text>
<text transform="translate(872.2 382.2) scale(1.12 1)" font-size="14.4" fill="#000">12</text>
<text transform="translate(872.2 305.2) scale(1.12 1)" font-size="14.4" fill="#000">15</text>
<text transform="translate(872.2 228.2) scale(1.12 1)" font-size="14.4" fill="#000">18</text>
<text transform="translate(872.2 151.2) scale(1.12 1)" font-size="14.4" fill="#000">21</text>
<text transform="translate(872.2 74.2) scale(1.12 1)" font-size="14.4" fill="#000">24</text>
</g>
</svg></body></html>
